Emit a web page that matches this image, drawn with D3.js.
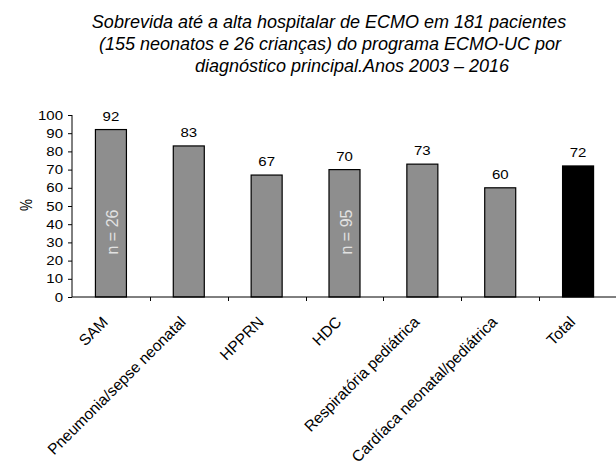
<!DOCTYPE html>
<html><head><meta charset="utf-8">
<script src="https://cdn.jsdelivr.net/npm/d3@7"></script>
<style>body{margin:0;background:#fff}svg{display:block}text{font-family:"Liberation Sans",Arial,sans-serif}</style>
</head><body>
<script>
const categories = ["SAM","Pneumonia/sepse neonatal","HPPRN","HDC","Respiratória pediátrica","Cardíaca neonatal/pediátrica","Total"];
const values = [92,83,67,70,73,60,72];
const barColors = ["#8e8e8e","#8e8e8e","#8e8e8e","#8e8e8e","#8e8e8e","#8e8e8e","#000000"];
const innerLabels = ["n = 26","","","n = 95","","",""];
const yTicks = [0,10,20,30,40,50,60,70,80,90,100];
const titleLines = ["Sobrevida até a alta hospitalar de ECMO em 181 pacientes","(155 neonatos e 26 crianças) do programa ECMO-UC por","diagnóstico principal.Anos 2003 – 2016"];
const titleCenters = [329,330,352];

const W=616,H=464, SX=1.2, FS=12.5;
const svg=d3.select("body").append("svg").attr("width",W).attr("height",H);
const x0=72,x1=617,y0=297,y1=115;
const x=d3.scaleBand().domain(categories).range([x0,x1]).paddingInner(0).paddingOuter(0);
const y=d3.scaleLinear().domain([0,100]).range([y0,y1]);
const bw=31;
const cx=c=>x(c)+x.bandwidth()/2;

svg.append("g").selectAll("text").data(titleLines).join("text")
  .attr("x",(d,i)=>titleCenters[i]).attr("y",(d,i)=>28+i*22).attr("text-anchor","middle")
  .attr("font-size",18).attr("font-style","italic").attr("fill","#000").text(d=>d);

// bars
svg.append("g").selectAll("rect").data(values).join("rect")
  .attr("x",(d,i)=>cx(categories[i])-bw/2)
  .attr("y",d=>y(d)).attr("width",bw).attr("height",d=>y0-y(d))
  .attr("fill",(d,i)=>barColors[i]).attr("stroke","#000").attr("stroke-width",1.2);

// value labels
svg.append("g").selectAll("text").data(values).join("text")
  .attr("transform",(d,i)=>`translate(${cx(categories[i])},${y(d)-9}) scale(${SX},1)`)
  .attr("text-anchor","middle").attr("font-size",FS).text(d=>d);

// inner labels
const inner=categories.map((c,i)=>({c,t:innerLabels[i]})).filter(d=>d.t!=="");
svg.append("g").selectAll("text").data(inner).join("text")
  .attr("transform",d=>`translate(${cx(d.c)+7},232) rotate(-90)`)
  .attr("text-anchor","middle").attr("font-size",16).attr("fill","#e2e2e2").text(d=>d.t);

// y axis
const ya=svg.append("g").attr("transform",`translate(${x0},0)`)
  .call(d3.axisLeft(y).tickValues(yTicks).tickSize(4).tickPadding(5));
ya.select(".domain").attr("stroke","#000").attr("d",`M0,${y1}V${y0}`);
ya.selectAll(".tick line").attr("stroke","#000");
ya.selectAll("text").each(function(){
  const t=d3.select(this); const xx=+t.attr("x");
  t.attr("x",0).attr("transform",`translate(${xx},0) scale(${SX},1)`);
}).attr("font-size",FS).attr("font-family","Liberation Sans, Arial, sans-serif").attr("fill","#000");

// x axis
const xa=svg.append("g").attr("transform",`translate(0,${y0})`);
xa.append("line").attr("x1",x0).attr("x2",616).attr("stroke","#000");
xa.selectAll("line.t").data(categories.slice(1)).join("line").attr("class","t")
  .attr("x1",d=>Math.round(x(d))+0.5).attr("x2",d=>Math.round(x(d))+0.5).attr("y1",0).attr("y2",4).attr("stroke","#000");
xa.selectAll("text").data(categories).join("text")
  .attr("transform",d=>`translate(${cx(d)-2},${26}) rotate(-45)`)
  .attr("text-anchor","end").attr("font-size",15.5).text(d=>d);

// % label
svg.append("text").attr("transform",`translate(32,205) scale(${SX},1) rotate(-90)`).attr("text-anchor","middle").attr("font-size",FS+1).text("%");
</script>
</body></html>
